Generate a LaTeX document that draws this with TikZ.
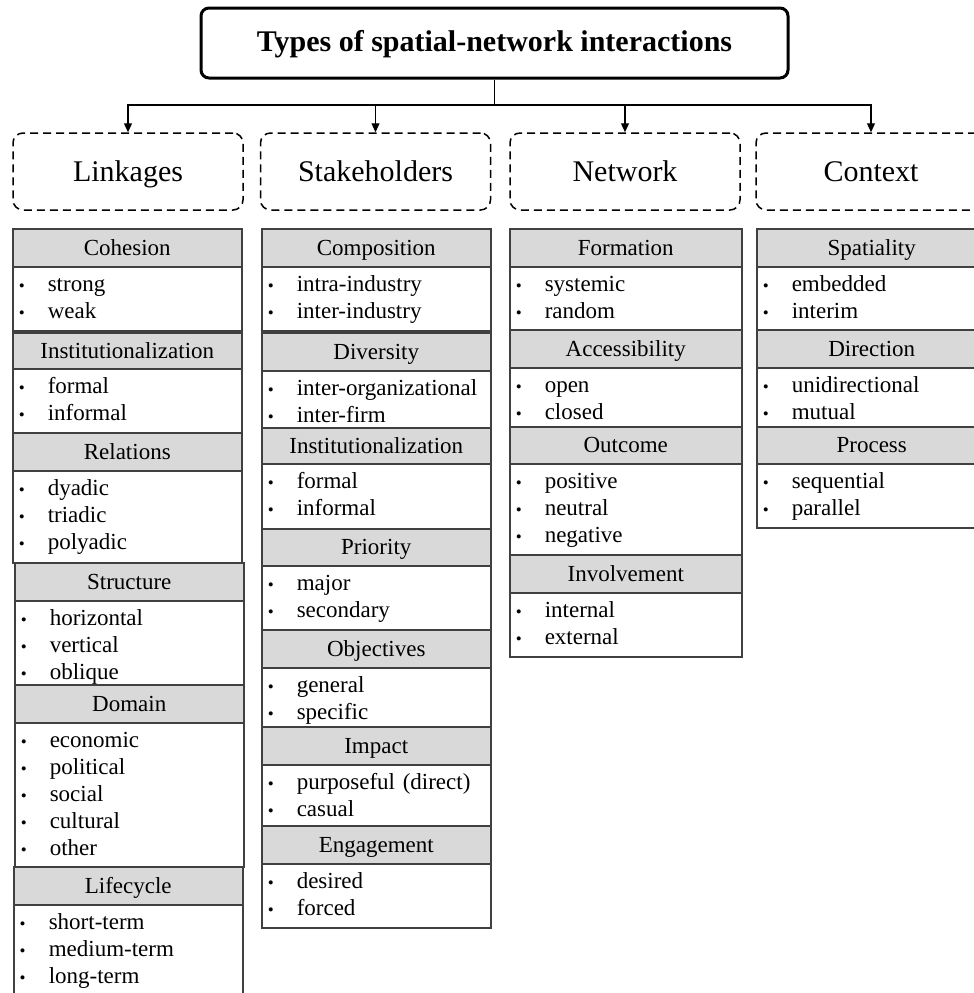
\documentclass[tikz,border=0pt]{standalone}
\usepackage{fontspec}
\setmainfont{Liberation Serif}
\usetikzlibrary{arrows.meta}

\definecolor{headgray}{RGB}{217,217,217}
\definecolor{rulegray}{RGB}{64,64,64}

\tikzset{
  maintitle/.style={draw, line width=3pt, rounded corners=8pt, minimum width=587pt, minimum height=70pt, text height=20pt, text depth=4pt, font=\fontsize{30}{32}\selectfont\bfseries},
  group/.style={draw, dash pattern=on 8pt off 5pt, line width=1.5pt, rounded corners=10pt, minimum width=230pt, minimum height=77pt, text height=22pt, text depth=2pt, font=\fontsize{30}{32}\selectfont},
  head/.style={draw=rulegray, line width=1.5pt, fill=headgray, anchor=north west, inner sep=0pt, text height=17pt, text depth=2pt, font=\fontsize{23}{27}\selectfont},
  items/.style={draw=rulegray, line width=1.5pt, anchor=north west, align=left, inner xsep=6pt, inner ysep=0pt, text height=25pt, font=\fontsize{23}{27}\selectfont},
  link/.style={line width=1.2pt},
}

\newcommand{\bl}{\makebox[29pt][l]{\raisebox{0.5pt}{\fontsize{17}{17}\selectfont\textbullet}}}
% name, x, top, header bottom, bottom, header, items
\newcommand{\sect}[7]{%
  \node[head, minimum width=\colw pt, minimum height={(#4-#3)*1pt}] (#1h) at (#2,#3) {#6};
  \node[items, text width={\colw pt-12pt}, text depth={(#5-#4-25)*1pt}] (#1i) at (#2,#4) {#7};
}

\begin{document}
\begin{tikzpicture}[x=1pt,y=-1pt]
\clip (0,0) rectangle (974,993);

\node[maintitle] (top) at (494.5,43) {Types of spatial-network interactions};

\node[group] (link) at (128,171.5) {Linkages};
\node[group] (stake) at (375.5,171.5) {Stakeholders};
\node[group] (net) at (625,171.5) {Network};
\node[group] (ctx) at (871,171.5) {Context};

\coordinate (bus) at (494.5,105);
\draw[link] (top.south) -- (bus);
\foreach \g in {link,stake,net,ctx}
  \draw[link,-{Triangle[length=9pt,width=8pt]}] (bus) -| (\g.north);

\def\colw{229}
\sect{coh}{12}{228}{266}{330}{Cohesion}{\bl strong\\\bl weak}
\sect{inst}{12}{332}{368}{432}{Institutionalization}{\bl formal\\\bl informal}
\sect{rel}{12}{432}{470}{562}{Relations}{\bl dyadic\\\bl triadic\\\bl polyadic}
\sect{str}{14}{562}{600}{684}{Structure}{\bl horizontal\\\bl vertical\\\bl oblique}
\sect{dom}{14}{684}{722}{866}{Domain}{\bl economic\\\bl political\\\bl social\\\bl cultural\\\bl other}
\sect{life}{13}{866}{904}{1000}{Lifecycle}{\bl short-term\\\bl medium-term\\\bl long-term}

\sect{comp}{261}{228}{266}{330}{Composition}{\bl intra-industry\\\bl inter-industry}
\sect{div}{261}{332}{370}{427}{Diversity}{\bl inter-organizational\\\bl inter-firm}
\sect{sinst}{261}{427}{463}{528}{Institutionalization}{\bl formal\\\bl informal}
\sect{prio}{261}{528}{565}{629}{Priority}{\bl major\\\bl secondary}
\sect{obj}{261}{629}{667}{726}{Objectives}{\bl general\\\bl specific}
\sect{imp}{261}{726}{764}{825}{Impact}{\bl purposeful (direct)\\\bl casual}
\sect{eng}{261}{825}{863}{927}{Engagement}{\bl desired\\\bl forced}

\def\colw{232}
\sect{form}{509}{228}{266}{329}{Formation}{\bl systemic\\\bl random}
\sect{acc}{509}{329}{367}{426}{Accessibility}{\bl open\\\bl closed}
\sect{out}{509}{426}{463}{554}{Outcome}{\bl positive\\\bl neutral\\\bl negative}
\sect{inv}{509}{554}{592}{656}{Involvement}{\bl internal\\\bl external}

\def\colw{230}
\sect{spat}{756}{228}{266}{329}{Spatiality}{\bl embedded\\\bl interim}
\sect{dir}{756}{329}{367}{426}{Direction}{\bl unidirectional\\\bl mutual}
\sect{proc}{756}{426}{463}{527}{Process}{\bl sequential\\\bl parallel}
\end{tikzpicture}
\end{document}
